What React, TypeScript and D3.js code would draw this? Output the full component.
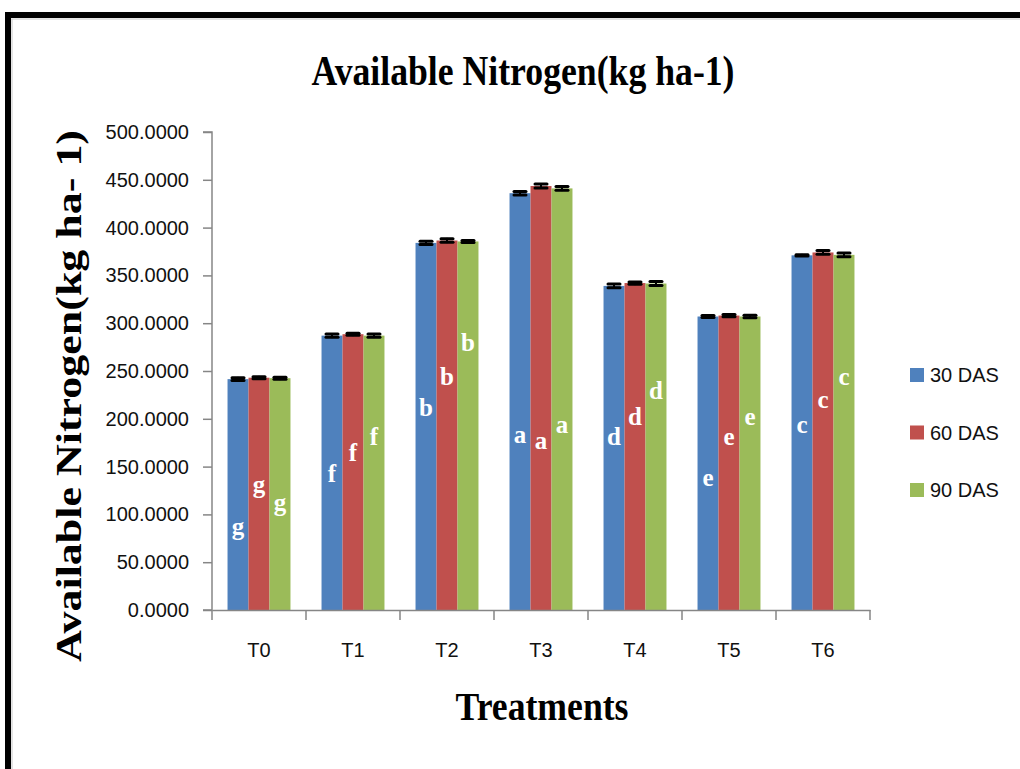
import { useEffect, useRef } from "react";
import * as d3 from "d3";

const WIDTH = 1020;
const HEIGHT = 769;
const MARGIN = { top: 132, right: 150, bottom: 159, left: 212 };

const CATEGORIES = ["T0", "T1", "T2", "T3", "T4", "T5", "T6"];
const SERIES = ["30 DAS", "60 DAS", "90 DAS"];
const COLORS = ["#4F81BD", "#C0504D", "#9BBB59"];

// mean values
const das30 = [241.5, 287.0, 384.0, 436.0, 339.0, 307.0, 371.0];
const das60 = [243.0, 288.5, 386.5, 443.5, 342.0, 308.0, 374.0];
const das90 = [242.5, 287.0, 385.5, 441.0, 341.5, 307.0, 371.5];

// error (+/-) values
const err30 = [1.5, 1.8, 1.8, 1.8, 2.0, 1.0, 0.6];
const err60 = [1.0, 1.0, 1.8, 2.0, 1.2, 1.2, 2.0];
const err90 = [1.0, 1.8, 1.0, 2.0, 2.0, 1.2, 2.0];

// significance letters and the level where they are written
const letters30 = ["g", "f", "b", "a", "d", "e", "c"];
const letters60 = ["g", "f", "b", "a", "d", "e", "c"];
const letters90 = ["g", "f", "b", "a", "d", "e", "c"];
const level30 = [87, 143, 212, 184, 181, 139, 194];
const level60 = [131, 165, 244, 177, 202, 182, 220];
const level90 = [112, 181, 280, 194, 230, 202, 244];

const Y_TICKS = [0, 50, 100, 150, 200, 250, 300, 350, 400, 450, 500];

const SERIF = "'Liberation Serif', 'DejaVu Serif', serif";
const SANS = "'Liberation Sans', Arial, sans-serif";

export default function App() {
  const axesRef = useRef<SVGGElement | null>(null);

  const boundsWidth = WIDTH - MARGIN.left - MARGIN.right;
  const boundsHeight = HEIGHT - MARGIN.top - MARGIN.bottom;

  const values = [das30, das60, das90];
  const errors = [err30, err60, err90];
  const letters = [letters30, letters60, letters90];
  const levels = [level30, level60, level90];

  const xScale = d3.scaleBand().domain(CATEGORIES).range([0, boundsWidth]).paddingInner(0).paddingOuter(0);
  const xInner = d3
    .scaleBand()
    .domain(SERIES)
    .range([0, xScale.bandwidth()])
    .paddingInner(0)
    .paddingOuter(0.74);
  const yScale = d3.scaleLinear().domain([0, 500]).range([boundsHeight, 0]);

  useEffect(() => {
    const g = d3.select(axesRef.current);
    g.selectAll("*").remove();

    const yAxis = g
      .append("g")
      .call(
        d3
          .axisLeft(yScale)
          .tickValues(Y_TICKS)
          .tickFormat((d) => d3.format(".4f")(d as number))
          .tickSize(9)
          .tickPadding(14)
      );
    yAxis.select(".domain").attr("stroke", "#868686").attr("stroke-width", 1.5).attr("d", `M-9,${boundsHeight}H0V0H-9`);
    yAxis.selectAll(".tick line").attr("stroke", "#868686").attr("stroke-width", 1.5);
    yAxis
      .selectAll(".tick text")
      .attr("font-family", SANS)
      .attr("font-size", 20)
      .attr("fill", "#111");

    const xAxis = g
      .append("g")
      .attr("transform", `translate(0,${boundsHeight})`)
      .call(d3.axisBottom(xScale).tickSize(0).tickPadding(33));
    xAxis.select(".domain").attr("stroke", "#868686").attr("stroke-width", 1.5);
    xAxis.selectAll(".tick text").attr("font-family", SANS).attr("font-size", 20).attr("fill", "#111");
    // category boundary ticks
    const bounds = CATEGORIES.map((c) => xScale(c) as number).concat([boundsWidth]);
    xAxis
      .selectAll("line.sep")
      .data(bounds)
      .join("line")
      .attr("class", "sep")
      .attr("x1", (d) => d)
      .attr("x2", (d) => d)
      .attr("y1", 0)
      .attr("y2", 10)
      .attr("stroke", "#868686")
      .attr("stroke-width", 1.5);
  }, [xScale, yScale, boundsHeight, boundsWidth]);

  const bars = CATEGORIES.map((cat, i) =>
    SERIES.map((s, j) => {
      const v = values[j][i];
      const x = (xScale(cat) as number) + (xInner(s) as number);
      const w = xInner.bandwidth();
      return (
        <rect key={`b${i}_${j}`} x={x} y={yScale(v)} width={w} height={boundsHeight - yScale(v)} fill={COLORS[j]} />
      );
    })
  );

  const errBars = CATEGORIES.map((cat, i) =>
    SERIES.map((s, j) => {
      const v = values[j][i];
      const e = errors[j][i];
      const cx = (xScale(cat) as number) + (xInner(s) as number) + xInner.bandwidth() / 2;
      const top = yScale(v + e);
      const bot = yScale(v - e);
      return (
        <g key={`e${i}_${j}`} stroke="#000" strokeLinecap="round">
          <line x1={cx} x2={cx} y1={top} y2={bot} strokeWidth={2} />
          <line x1={cx - 6} x2={cx + 6} y1={top} y2={top} strokeWidth={3} />
          <line x1={cx - 6} x2={cx + 6} y1={bot} y2={bot} strokeWidth={3} />
        </g>
      );
    })
  );

  const labels = CATEGORIES.map((cat, i) =>
    SERIES.map((s, j) => {
      const cx = (xScale(cat) as number) + (xInner(s) as number) + xInner.bandwidth() / 2;
      return (
        <text
          key={`l${i}_${j}`}
          x={cx}
          y={yScale(levels[j][i])}
          textAnchor="middle"
          dominantBaseline="central"
          fill="#fff"
          fontFamily={SERIF}
          fontWeight="bold"
          fontSize={25}
        >
          {letters[j][i]}
        </text>
      );
    })
  );

  return (
    <svg
      width={WIDTH}
      height={HEIGHT}
      style={{ position: "absolute", left: 0, top: 0, background: "#fff" }}
    >
      <rect x={0} y={0} width={WIDTH} height={HEIGHT} fill="#fff" />
      {/* black frame, top and left only */}
      <line x1={5} x2={WIDTH} y1={15} y2={15} stroke="#000" strokeWidth={6} />
      <line x1={8} x2={8} y1={12} y2={HEIGHT} stroke="#000" strokeWidth={6} />
      <line x1={11} x2={WIDTH} y1={19} y2={19} stroke="#c8c8c8" strokeWidth={1} />
      <line x1={12} x2={12} y1={19} y2={HEIGHT} stroke="#c8c8c8" strokeWidth={1} />

      <text
        x={523}
        y={85}
        textAnchor="middle"
        fontFamily={SERIF}
        fontWeight="bold"
        fontSize={42}
        textLength={423}
        lengthAdjust="spacingAndGlyphs"
      >
        Available Nitrogen(kg ha-1)
      </text>

      <text
        transform={`translate(81,396) rotate(-90)`}
        textAnchor="middle"
        fontFamily={SERIF}
        fontWeight="bold"
        fontSize={36}
        textLength={532}
        lengthAdjust="spacingAndGlyphs"
      >
        Available Nitrogen(kg ha- 1)
      </text>

      <text
        x={542}
        y={720}
        textAnchor="middle"
        fontFamily={SERIF}
        fontWeight="bold"
        fontSize={40}
        textLength={173}
        lengthAdjust="spacingAndGlyphs"
      >
        Treatments
      </text>

      <g transform={`translate(${MARGIN.left},${MARGIN.top})`}>
        {bars}
        {errBars}
        {labels}
      </g>
      <g ref={axesRef} transform={`translate(${MARGIN.left},${MARGIN.top})`} />

      <g>
        {SERIES.map((s, j) => (
          <g key={s} transform={`translate(910,${375 + j * 57.5})`}>
            <rect x={0} y={-7} width={14} height={14} fill={COLORS[j]} />
            <text x={20} y={0} dominantBaseline="central" fontFamily={SANS} fontSize={20} fill="#111">
              {s}
            </text>
          </g>
        ))}
      </g>
    </svg>
  );
}
